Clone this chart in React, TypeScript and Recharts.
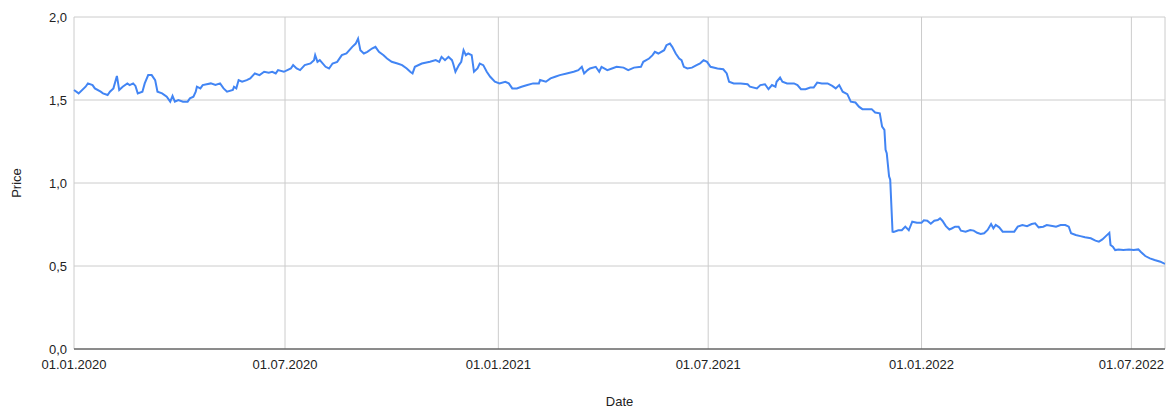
import React from "react"
import { LineChart, Line, XAxis, YAxis, CartesianGrid, Label } from "recharts"

// [MM-DD, price], one list per year
const prices2020: [string, number][] = [
  ["01-01", 1.56], ["01-05", 1.54], ["01-11", 1.58], ["01-13", 1.6], ["01-17", 1.59], ["01-19", 1.57],
  ["01-24", 1.55], ["01-26", 1.54], ["01-30", 1.53], ["02-01", 1.55], ["02-04", 1.57], ["02-07", 1.645],
  ["02-09", 1.56], ["02-12", 1.58], ["02-16", 1.6], ["02-18", 1.59], ["02-21", 1.6], ["02-23", 1.585],
  ["02-25", 1.54], ["02-29", 1.55], ["03-02", 1.6], ["03-05", 1.65], ["03-08", 1.65], ["03-11", 1.62],
  ["03-13", 1.55], ["03-17", 1.54], ["03-21", 1.52], ["03-24", 1.49], ["03-26", 1.525], ["03-28", 1.49],
  ["03-31", 1.5], ["04-04", 1.49], ["04-08", 1.49], ["04-10", 1.51], ["04-13", 1.52], ["04-15", 1.55],
  ["04-16", 1.58], ["04-19", 1.57], ["04-21", 1.59], ["04-28", 1.6], ["05-02", 1.59], ["05-06", 1.6],
  ["05-09", 1.57], ["05-12", 1.55], ["05-17", 1.56], ["05-18", 1.58], ["05-20", 1.57], ["05-22", 1.62],
  ["05-25", 1.61], ["05-29", 1.62], ["06-01", 1.63], ["06-05", 1.66], ["06-09", 1.65], ["06-13", 1.67],
  ["06-17", 1.665], ["06-20", 1.67], ["06-23", 1.66], ["06-25", 1.68], ["06-30", 1.67], ["07-03", 1.68],
  ["07-06", 1.69], ["07-08", 1.71], ["07-11", 1.69], ["07-14", 1.68], ["07-18", 1.71], ["07-23", 1.72],
  ["07-26", 1.74], ["07-27", 1.77], ["07-29", 1.73], ["07-31", 1.74], ["08-05", 1.7], ["08-08", 1.69],
  ["08-11", 1.72], ["08-15", 1.73], ["08-19", 1.77], ["08-23", 1.78], ["08-28", 1.82], ["08-31", 1.84],
  ["09-02", 1.87], ["09-04", 1.8], ["09-07", 1.78], ["09-10", 1.79], ["09-14", 1.81], ["09-17", 1.82],
  ["09-20", 1.79], ["09-24", 1.77], ["09-27", 1.75], ["10-01", 1.73], ["10-06", 1.72], ["10-10", 1.71],
  ["10-14", 1.69], ["10-17", 1.67], ["10-19", 1.66], ["10-21", 1.7], ["10-27", 1.72], ["11-03", 1.73],
  ["11-08", 1.74], ["11-11", 1.73], ["11-13", 1.76], ["11-16", 1.74], ["11-19", 1.76], ["11-22", 1.74],
  ["11-23", 1.72], ["11-25", 1.67], ["11-28", 1.71], ["11-30", 1.73], ["12-02", 1.8], ["12-04", 1.77],
  ["12-06", 1.78], ["12-09", 1.77], ["12-11", 1.67], ["12-14", 1.69], ["12-16", 1.72], ["12-19", 1.71],
  ["12-22", 1.67], ["12-25", 1.64], ["12-29", 1.61],
]

const prices2021: [string, number][] = [
  ["01-02", 1.6], ["01-07", 1.61], ["01-10", 1.6], ["01-13", 1.57], ["01-17", 1.57], ["01-21", 1.58],
  ["01-26", 1.59], ["01-31", 1.6], ["02-05", 1.6], ["02-06", 1.62], ["02-11", 1.61], ["02-15", 1.63],
  ["02-19", 1.64], ["02-23", 1.65], ["03-01", 1.66], ["03-07", 1.67], ["03-11", 1.68], ["03-14", 1.7],
  ["03-16", 1.66], ["03-19", 1.68], ["03-21", 1.69], ["03-26", 1.7], ["03-29", 1.67], ["03-31", 1.7],
  ["04-05", 1.68], ["04-09", 1.69], ["04-13", 1.7], ["04-19", 1.695], ["04-23", 1.68], ["04-28", 1.695],
  ["05-04", 1.7], ["05-06", 1.73], ["05-11", 1.75], ["05-14", 1.77], ["05-16", 1.79], ["05-19", 1.78],
  ["05-24", 1.8], ["05-26", 1.83], ["05-29", 1.84], ["05-31", 1.82], ["06-03", 1.78], ["06-06", 1.75],
  ["06-08", 1.74], ["06-10", 1.7], ["06-13", 1.69], ["06-17", 1.695], ["06-21", 1.71], ["06-24", 1.72],
  ["06-27", 1.74], ["06-30", 1.73], ["07-03", 1.7], ["07-09", 1.69], ["07-14", 1.685], ["07-17", 1.66],
  ["07-19", 1.61], ["07-23", 1.6], ["07-29", 1.6], ["08-04", 1.595], ["08-06", 1.58], ["08-12", 1.57],
  ["08-15", 1.59], ["08-19", 1.595], ["08-22", 1.565], ["08-25", 1.59], ["08-28", 1.58], ["08-29", 1.61],
  ["09-01", 1.635], ["09-03", 1.61], ["09-07", 1.6], ["09-13", 1.6], ["09-16", 1.59], ["09-19", 1.565],
  ["09-23", 1.565], ["09-27", 1.575], ["09-30", 1.575], ["10-03", 1.605], ["10-07", 1.6], ["10-12", 1.6],
  ["10-16", 1.585], ["10-19", 1.57], ["10-22", 1.59], ["10-25", 1.55], ["10-29", 1.535], ["11-01", 1.49],
  ["11-05", 1.485], ["11-08", 1.46], ["11-11", 1.445], ["11-15", 1.445], ["11-19", 1.445], ["11-22", 1.425],
  ["11-26", 1.42], ["11-28", 1.34], ["11-30", 1.32], ["12-01", 1.2], ["12-02", 1.18], ["12-04", 1.04],
  ["12-05", 1.02], ["12-07", 0.707], ["12-08", 0.705], ["12-12", 0.715], ["12-15", 0.715], ["12-18", 0.737],
  ["12-21", 0.715], ["12-24", 0.767], ["12-28", 0.76],
]

const prices2022: [string, number][] = [
  ["01-01", 0.76], ["01-03", 0.775], ["01-06", 0.773], ["01-09", 0.755], ["01-12", 0.773], ["01-15", 0.777],
  ["01-17", 0.787], ["01-19", 0.773], ["01-22", 0.74], ["01-25", 0.72], ["01-27", 0.726], ["01-30", 0.737],
  ["02-02", 0.737], ["02-04", 0.713], ["02-08", 0.707], ["02-12", 0.717], ["02-15", 0.713], ["02-18", 0.7],
  ["02-21", 0.693], ["02-24", 0.697], ["02-27", 0.717], ["03-02", 0.753], ["03-04", 0.727], ["03-06", 0.747],
  ["03-09", 0.733], ["03-12", 0.707], ["03-16", 0.707], ["03-22", 0.707], ["03-25", 0.737], ["03-29", 0.747],
  ["04-02", 0.74], ["04-06", 0.753], ["04-09", 0.757], ["04-12", 0.733], ["04-16", 0.737], ["04-19", 0.747],
  ["04-25", 0.74], ["04-27", 0.737], ["05-01", 0.747], ["05-05", 0.747], ["05-08", 0.737], ["05-10", 0.697],
  ["05-14", 0.687], ["05-18", 0.68], ["05-22", 0.673], ["05-27", 0.667], ["05-31", 0.653], ["06-03", 0.647],
  ["06-06", 0.66], ["06-09", 0.68], ["06-12", 0.7], ["06-13", 0.627], ["06-15", 0.616], ["06-17", 0.596],
  ["06-20", 0.6], ["06-24", 0.596], ["06-29", 0.6], ["07-03", 0.596], ["07-07", 0.6], ["07-09", 0.586],
  ["07-13", 0.56], ["07-17", 0.546], ["07-21", 0.536], ["07-26", 0.526], ["07-29", 0.516], ["07-30", 0.514],
]

const dateTicks = ["2020-01-01", "2020-07-01", "2021-01-01", "2021-07-01", "2022-01-01", "2022-07-01"]
const priceTicks = [0, 0.5, 1, 1.5, 2]

const toTime = (iso: string) => {
  const [y, m, d] = iso.split("-").map(Number)
  return Date.UTC(y, m - 1, d)
}

const data = [
  ...prices2020.map(([md, price]) => ({ t: toTime("2020-" + md), price })),
  ...prices2021.map(([md, price]) => ({ t: toTime("2021-" + md), price })),
  ...prices2022.map(([md, price]) => ({ t: toTime("2022-" + md), price })),
]

const fmtDate = (t: number) => {
  const d = new Date(t)
  const p = (n: number) => String(n).padStart(2, "0")
  return `${p(d.getUTCDate())}.${p(d.getUTCMonth() + 1)}.${d.getUTCFullYear()}`
}

const text = "#222"

export default function App() {
  return (
    <div style={{ position: "absolute", left: 0, top: 0, fontFamily: "'Liberation Sans', Arial, sans-serif", background: "#fff" }}>
      <LineChart width={1169} height={408} data={data} margin={{ top: 17, right: 4, bottom: 0, left: 0 }}>
        <CartesianGrid stroke="#ccc" />
        <XAxis
          dataKey="t"
          type="number"
          domain={["dataMin", "dataMax"]}
          ticks={dateTicks.map(toTime)}
          interval={0}
          tickFormatter={fmtDate}
          height={59}
          tickLine={false}
          tickSize={9}
          tickMargin={2}
          axisLine={{ stroke: "#333" }}
          tick={{ fill: text, fontSize: 13 }}
        >
          <Label value="Date" position="insideBottom" offset={2} fill={text} fontSize={13} />
        </XAxis>
        <YAxis
          domain={[0, 2]}
          ticks={priceTicks}
          tickFormatter={(v: number) => v.toFixed(1).replace(".", ",")}
          width={74}
          axisLine={false}
          tickLine={false}
          tickSize={5}
          tickMargin={2}
          tick={{ fill: text, fontSize: 13 }}
        >
          <Label value="Price" angle={-90} position="insideLeft" offset={16} fill={text} fontSize={13} style={{ textAnchor: "middle" }} />
        </YAxis>
        <Line type="linear" dataKey="price" stroke="#4285f4" strokeWidth={2} dot={false} isAnimationActive={false} />
      </LineChart>
    </div>
  )
}
